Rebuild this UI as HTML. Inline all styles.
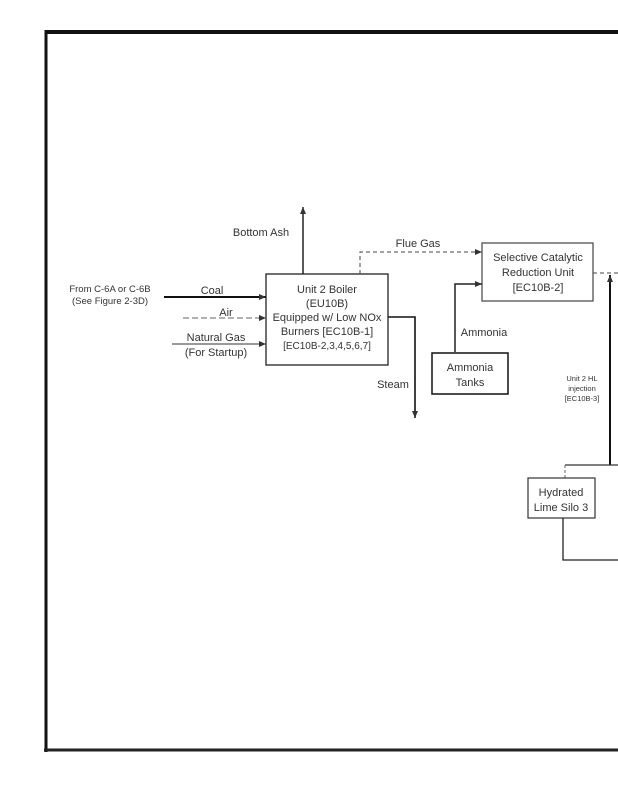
<!DOCTYPE html>
<html><head><style>
html,body{margin:0;padding:0;background:#fff;}
svg{display:block;}
text{font-family:"Liberation Sans",sans-serif;fill:#333;}
</style></head><body>
<svg width="618" height="800" viewBox="0 0 618 800" xmlns="http://www.w3.org/2000/svg">
<defs>
<marker id="a" markerWidth="8" markerHeight="8" refX="7" refY="4" orient="auto" markerUnits="userSpaceOnUse">
<path d="M0,1 L7,4 L0,7 Z" fill="#333"/></marker>
</defs>
<!-- frame -->
<line x1="46" y1="32" x2="618" y2="32" stroke="#111" stroke-width="4"/>
<line x1="46" y1="30" x2="46" y2="752" stroke="#111" stroke-width="3"/>
<line x1="44" y1="750" x2="618" y2="750" stroke="#222" stroke-width="3"/>

<!-- boiler -->
<rect x="266" y="274" width="122" height="91" fill="none" stroke="#222" stroke-width="1.3"/>
<g font-size="11" text-anchor="middle">
<text x="327" y="293">Unit 2 Boiler</text>
<text x="327" y="307">(EU10B)</text>
<text x="327" y="321">Equipped w/ Low NOx</text>
<text x="327" y="335">Burners [EC10B-1]</text>
<text x="327" y="349" font-size="10">[EC10B-2,3,4,5,6,7]</text>
</g>
<!-- bottom ash -->
<line x1="303" y1="274" x2="303" y2="207" stroke="#222" stroke-width="1.5" marker-end="url(#a)"/>
<text x="261" y="236" font-size="11" text-anchor="middle">Bottom Ash</text>
<!-- flue gas -->
<polyline points="360,274 360,252 482,252" fill="none" stroke="#444" stroke-width="1" stroke-dasharray="4,3" marker-end="url(#a)"/>
<text x="418" y="247" font-size="11" text-anchor="middle">Flue Gas</text>
<!-- inputs -->
<text x="110" y="292" font-size="9.5" text-anchor="middle">From C-6A or C-6B</text>
<text x="110" y="304" font-size="9.5" text-anchor="middle">(See Figure 2-3D)</text>
<line x1="164" y1="297" x2="266" y2="297" stroke="#111" stroke-width="2" marker-end="url(#a)"/>
<text x="212" y="294" font-size="11" text-anchor="middle">Coal</text>
<line x1="183" y1="318" x2="266" y2="318" stroke="#666" stroke-width="1" stroke-dasharray="6,3" marker-end="url(#a)"/>
<text x="226" y="316" font-size="11" text-anchor="middle">Air</text>
<line x1="172" y1="344" x2="266" y2="344" stroke="#333" stroke-width="1" marker-end="url(#a)"/>
<text x="216" y="341" font-size="11" text-anchor="middle">Natural Gas</text>
<text x="216" y="356" font-size="11" text-anchor="middle">(For Startup)</text>
<!-- steam -->
<polyline points="388,317 415,317 415,418" fill="none" stroke="#111" stroke-width="1.6" marker-end="url(#a)"/>
<text x="393" y="388" font-size="11" text-anchor="middle">Steam</text>

<!-- SCR -->
<rect x="482" y="243" width="111" height="58" fill="none" stroke="#444" stroke-width="1.2"/>
<g font-size="11" text-anchor="middle">
<text x="538" y="261">Selective Catalytic</text>
<text x="538" y="276">Reduction Unit</text>
<text x="538" y="291">[EC10B-2]</text>
</g>
<line x1="593" y1="273" x2="618" y2="273" stroke="#444" stroke-width="1" stroke-dasharray="4,3"/>
<!-- ammonia -->
<polyline points="455,352 455,284 482,284" fill="none" stroke="#222" stroke-width="1.5" marker-end="url(#a)"/>
<text x="484" y="336" font-size="11" text-anchor="middle">Ammonia</text>
<rect x="432" y="353" width="76" height="41" fill="none" stroke="#111" stroke-width="1.5"/>
<text x="470" y="371" font-size="11" text-anchor="middle">Ammonia</text>
<text x="470" y="386" font-size="11" text-anchor="middle">Tanks</text>

<!-- HL injection -->
<line x1="610" y1="465" x2="610" y2="275" stroke="#111" stroke-width="2" marker-end="url(#a)"/>
<g font-size="7.5" text-anchor="middle">
<text x="582" y="381">Unit 2 HL</text>
<text x="582" y="391">injection</text>
<text x="582" y="401">[EC10B-3]</text>
</g>
<line x1="565" y1="465" x2="618" y2="465" stroke="#333" stroke-width="1.2"/>
<line x1="565" y1="465" x2="565" y2="478" stroke="#666" stroke-width="1" stroke-dasharray="3,2"/>
<rect x="528" y="478" width="67" height="40" fill="none" stroke="#333" stroke-width="1.2"/>
<text x="561" y="496" font-size="11" text-anchor="middle">Hydrated</text>
<text x="561" y="511" font-size="11" text-anchor="middle">Lime Silo 3</text>
<polyline points="563,518 563,560 618,560" fill="none" stroke="#222" stroke-width="1.3"/>
</svg>
</body></html>
